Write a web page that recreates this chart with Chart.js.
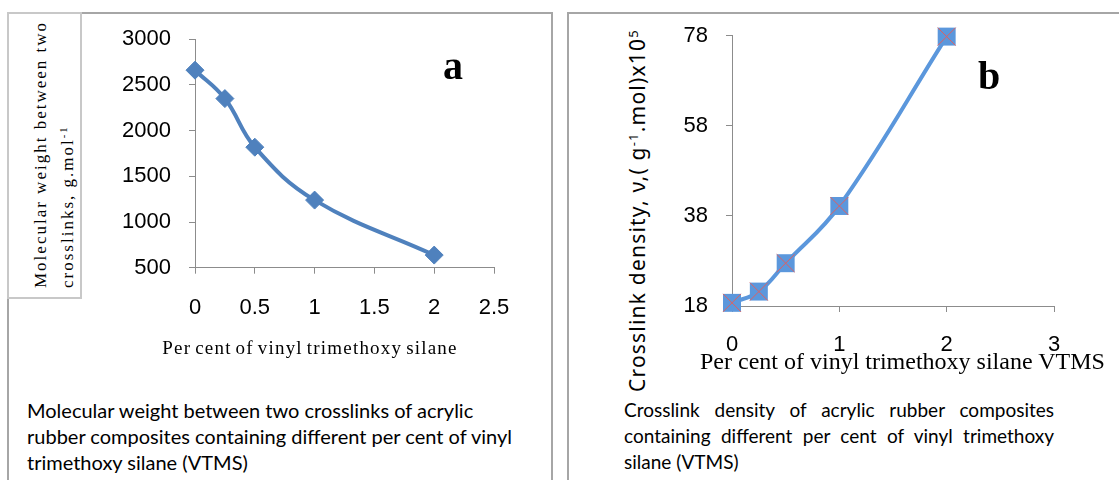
<!DOCTYPE html>
<html>
<head>
<meta charset="utf-8">
<script src="https://cdn.jsdelivr.net/npm/chart.js@4.4.0/dist/chart.umd.min.js"></script>
<style>
  html, body { margin: 0; padding: 0; background: #fff; width: 1119px; height: 480px; overflow: hidden; }
  .abs { position: absolute; }
  #panelA { left: 7px; top: 12px; width: 546px; height: 480px; border: 2px solid #a6a6a6; border-bottom: none; box-sizing: border-box; }
  #panelB { left: 567px; top: 12px; width: 560px; height: 480px; border: 2px solid #a6a6a6; border-bottom: none; border-right: none; box-sizing: border-box; }
  #ylabBox { left: 7px; top: 12px; width: 75px; height: 287px; border: 2px solid #c8c8c8; box-sizing: border-box; background: #fff; }
  #ylabA { left: 27px; top: 288px; transform-origin: 0 0; transform: rotate(-90deg); font-family: "Liberation Serif", serif; font-size: 17px; letter-spacing: 2px; line-height: 27px; white-space: nowrap; color: #000; }
  #ylabA sup, #ylabB sup { font-size: 0.62em; line-height: 0; vertical-align: 0.55em; }
  #xlabA { left: 140px; width: 340px; top: 337px; text-align: center; font-family: "Liberation Serif", serif; font-size: 19px; letter-spacing: 1.2px; word-spacing: -2px; white-space: nowrap; color: #000; }
  #ylabB { left: 623px; top: 392px; transform-origin: 0 0; transform: rotate(-90deg); font-family: "Noto Sans", sans-serif; font-size: 21px; letter-spacing: 1.2px; white-space: nowrap; color: #000; line-height: 28px; }
  #xlabB { left: 700px; top: 348px; font-family: "Liberation Serif", serif; font-size: 24px; white-space: nowrap; color: #000; }
  .tag { font-family: "Liberation Serif", serif; font-weight: bold; color: #000; }
  #tagA { left: 443px; top: 42px; font-size: 40px; }
  #tagB { left: 978px; top: 52px; font-size: 40px; }
  .cap { font-family: "Lato", sans-serif; color: #000; line-height: 26px; }
  #capA { left: 27px; top: 397px; white-space: nowrap; font-size: 20px; }
  #capB { left: 624px; top: 397px; width: 430px; font-size: 19px; }
  #capB .j { text-align: justify; text-align-last: justify; }
  canvas { position: absolute; }
</style>
</head>
<body>
<div id="panelA" class="abs"></div>
<div id="panelB" class="abs"></div>
<div id="ylabBox" class="abs"></div>
<div id="ylabA" class="abs">Molecular weight between two<br>crosslinks, g.mol<sup>-1</sup></div>
<canvas id="chartA" width="420" height="320" style="left:100px; top:20px;"></canvas>
<canvas id="chartB" width="440" height="360" style="left:660px; top:15px;"></canvas>
<div id="xlabA" class="abs">Per cent of vinyl trimethoxy silane</div>
<div id="ylabB" class="abs">Crosslink density, ν,( g<sup>-1</sup>.mol)x10<sup>5</sup></div>
<div id="xlabB" class="abs">Per cent of vinyl trimethoxy silane VTMS</div>
<div id="tagA" class="abs tag">a</div>
<div id="tagB" class="abs tag">b</div>
<div id="capA" class="abs cap">Molecular weight between two crosslinks of acrylic<br>rubber composites containing different per cent of vinyl<br>trimethoxy silane (VTMS)</div>
<div id="capB" class="abs cap"><div class="j">Crosslink density of acrylic rubber composites</div><div class="j">containing different per cent of vinyl trimethoxy</div><div>silane (VTMS)</div></div>
<script>
// ---- data ----
const vtmsA = [0, 0.25, 0.5, 1, 2];
const mcValues = [2662, 2351, 1819, 1240, 638];
const xTicksA = [0, 0.5, 1, 1.5, 2, 2.5];
const yTicksA = [500, 1000, 1500, 2000, 2500, 3000];

const vtmsB = [0, 0.25, 0.5, 1, 2];
const densityValues = [18.7, 21.2, 27.5, 40.2, 77.8];
const xTicksB = [0, 1, 2, 3];
const yTicksB = [18, 38, 58, 78];

const toPts = (xs, ys) => xs.map((x, i) => ({ x: x, y: ys[i] }));
const axisGrey = '#8c8c8c';

function axisOpts(ticks, fontSize, pad, fitKey, fitVal) {
  return {
    type: 'linear',
    min: ticks[0], max: ticks[ticks.length - 1],
    afterBuildTicks: (s) => { s.ticks = ticks.map(v => ({ value: v })); },
    afterFit: (s) => {
      s[fitKey] = fitVal;
      s.paddingTop = 0; s.paddingBottom = 0; s.paddingLeft = 0; s.paddingRight = 0;
    },
    grid: { display: true, drawOnChartArea: false, drawTicks: true, tickLength: 6, color: axisGrey, lineWidth: 1 },
    border: { display: true, color: axisGrey, width: 1 },
    ticks: { color: '#000', padding: pad, font: { family: '"Liberation Sans", Arial, sans-serif', size: fontSize }, maxRotation: 0, autoSkip: false, callback: (v) => String(v) }
  };
}

Chart.defaults.devicePixelRatio = 1;

new Chart(document.getElementById('chartA'), {
  type: 'scatter',
  data: { datasets: [{
    data: toPts(vtmsA, mcValues),
    showLine: true, tension: 0.4, clip: false,
    borderColor: '#4f81bd', borderWidth: 4,
    pointStyle: 'rectRot', pointRadius: 9,
    pointBackgroundColor: '#4f81bd', pointBorderColor: '#4f81bd', pointBorderWidth: 1
  }]},
  options: {
    responsive: false, animation: false, events: [],
    layout: { autoPadding: false, padding: { left: 0, top: 19.3, right: 26, bottom: 0 } },
    plugins: { legend: { display: false }, tooltip: { enabled: false } },
    scales: {
      x: axisOpts(xTicksA, 22, 21, 'height', 72.3),
      y: axisOpts(yTicksA, 22, 18, 'width', 95)
    }
  }
});

new Chart(document.getElementById('chartB'), {
  type: 'scatter',
  data: { datasets: [
    {
      data: toPts(vtmsB, densityValues),
      showLine: false, clip: false,
      pointStyle: 'crossRot', pointRadius: 12.7,
      pointBorderColor: '#e06060', pointBorderWidth: 1, pointBackgroundColor: 'rgba(0,0,0,0)'
    },
    {
      data: toPts(vtmsB, densityValues),
      showLine: true, tension: 0.4, clip: false,
      borderColor: '#5b97dc', borderWidth: 4,
      pointStyle: 'rect', pointRadius: 12.7,
      pointBackgroundColor: '#5b97dc', pointBorderColor: '#5b97dc', pointBorderWidth: 0
    }
  ]},
  options: {
    responsive: false, animation: false, events: [],
    layout: { autoPadding: false, padding: { left: 0, top: 20.7, right: 46, bottom: 0 } },
    plugins: { legend: { display: false }, tooltip: { enabled: false } },
    scales: {
      x: axisOpts(xTicksB, 22, 20, 'height', 69),
      y: axisOpts(yTicksB, 22, 18, 'width', 72)
    }
  }
});
</script>
</body>
</html>
